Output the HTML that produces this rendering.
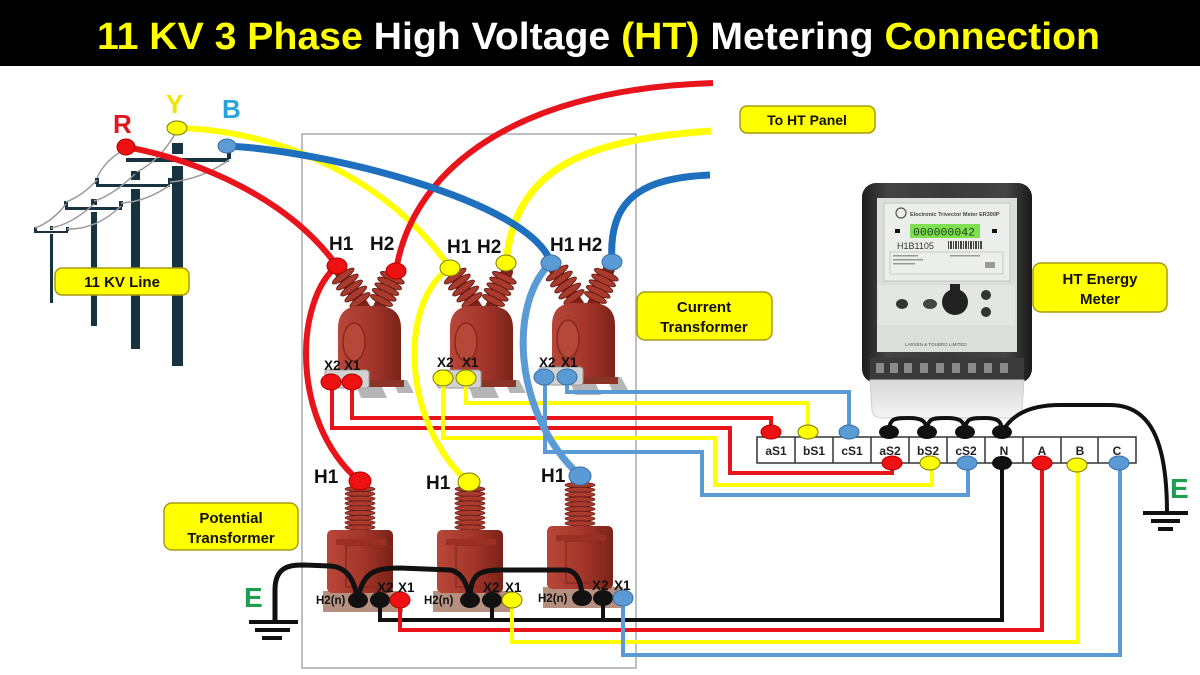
<!DOCTYPE html>
<html><head><meta charset="utf-8">
<style>
html,body{margin:0;padding:0;background:#fff;}
svg{display:block;}
text{font-family:"Liberation Sans",Arial,sans-serif;font-weight:bold;}
</style></head><body>
<svg width="1200" height="675" viewBox="0 0 1200 675" xmlns="http://www.w3.org/2000/svg">
<defs>
 <linearGradient id="case" x1="0" x2="1" y1="0" y2="0">
  <stop offset="0" stop-color="#1e1e1e"/><stop offset=".15" stop-color="#444"/><stop offset=".5" stop-color="#3a3a3a"/><stop offset=".85" stop-color="#444"/><stop offset="1" stop-color="#1a1a1a"/>
 </linearGradient>
 <linearGradient id="ctb" x1="0" x2="1" y1="0" y2="0">
  <stop offset="0" stop-color="#b8473a"/><stop offset=".55" stop-color="#a3352a"/><stop offset="1" stop-color="#7a2218"/>
 </linearGradient>
 <linearGradient id="cover" x1="0" x2="0" y1="0" y2="1">
  <stop offset="0" stop-color="#d8d8d8"/><stop offset="1" stop-color="#f4f4f4"/>
 </linearGradient>
 <g id="ct">
  <path d="M20,121 L45,121 L50,132 L24,132 Z" fill="#b5b5b5"/>
  <path d="M55,114 L70,114 L77,127 L61,127 Z" fill="#b5b5b5"/>
  <line x1="2" y1="4" x2="30" y2="46" stroke="#7d2418" stroke-width="12" stroke-linecap="round"/>
  <line x1="58" y1="6" x2="40" y2="46" stroke="#7d2418" stroke-width="12" stroke-linecap="round"/>
  <g fill="#a83b2d" stroke="#641810" stroke-width="0.9">
   <ellipse cx="6.2" cy="10" rx="13" ry="3.4" transform="rotate(-35 6.2 10)"/>
   <ellipse cx="10.4" cy="16" rx="13" ry="3.4" transform="rotate(-35 10.4 16)"/>
   <ellipse cx="14.6" cy="22" rx="13" ry="3.4" transform="rotate(-35 14.6 22)"/>
   <ellipse cx="18.8" cy="28" rx="13" ry="3.4" transform="rotate(-35 18.8 28)"/>
   <ellipse cx="23" cy="34" rx="12" ry="3.4" transform="rotate(-35 23 34)"/>
   <ellipse cx="55.3" cy="11.7" rx="13" ry="3.4" transform="rotate(25 55.3 11.7)"/>
   <ellipse cx="52.6" cy="17.4" rx="13" ry="3.4" transform="rotate(25 52.6 17.4)"/>
   <ellipse cx="49.9" cy="23.1" rx="13" ry="3.4" transform="rotate(25 49.9 23.1)"/>
   <ellipse cx="47.2" cy="28.8" rx="13" ry="3.4" transform="rotate(25 47.2 28.8)"/>
   <ellipse cx="44.5" cy="34.5" rx="12" ry="3.4" transform="rotate(25 44.5 34.5)"/>
  </g>
  <path d="M1,118 L1,62 Q1,42 20,40 L44,40 Q64,42 64,62 L64,118 Z" fill="url(#ctb)"/>
  <ellipse cx="17" cy="76" rx="11" ry="19" fill="#b54838" stroke="#86281d" stroke-width="1.5"/>
  <rect x="-3" y="114" width="70" height="7" fill="#8a3428"/>
  <rect x="-12" y="104" width="44" height="18" rx="3" fill="#d2d2d2" stroke="#9a9a9a"/>
 </g>
 <g id="pt">
  <rect x="-37" y="110" width="80" height="21" fill="#b59080"/>
  <rect x="-7" y="4" width="14" height="48" fill="#7d2418"/>
  <g fill="#a83b2d" stroke="#641810" stroke-width="0.8">
   <ellipse cx="0" cy="8" rx="15" ry="2.6"/>
   <ellipse cx="0" cy="12.8" rx="15" ry="2.6"/>
   <ellipse cx="0" cy="17.6" rx="15" ry="2.6"/>
   <ellipse cx="0" cy="22.4" rx="15" ry="2.6"/>
   <ellipse cx="0" cy="27.2" rx="15" ry="2.6"/>
   <ellipse cx="0" cy="32" rx="15" ry="2.6"/>
   <ellipse cx="0" cy="36.8" rx="15" ry="2.6"/>
   <ellipse cx="0" cy="41.6" rx="15" ry="2.6"/>
   <ellipse cx="0" cy="46.4" rx="15" ry="2.6"/>
  </g>
  <rect x="-33" y="49" width="66" height="63" rx="5" fill="url(#ctb)"/>
  <rect x="-14" y="64" width="38" height="42" fill="none" stroke="#8a2a1f" stroke-width="1.5"/>
  <rect x="-24" y="58" width="50" height="6" fill="#9a2f23"/>
 </g>
</defs>

<rect width="1200" height="675" fill="#fff"/>
<rect width="1200" height="66" fill="#000"/>
<text x="97" y="49" font-size="38" textLength="1003" lengthAdjust="spacingAndGlyphs"><tspan fill="#ffff00">11 KV 3 Phase</tspan><tspan fill="#ffffff"> High Voltage </tspan><tspan fill="#ffff00">(HT)</tspan><tspan fill="#ffffff"> Metering </tspan><tspan fill="#ffff00">Connection</tspan></text>

<!-- grey enclosure -->
<rect x="302" y="134" width="334" height="534" fill="none" stroke="#aaaaaa" stroke-width="1.5"/>

<!-- poles -->
<g fill="#173340">
 <rect x="172" y="143" width="11" height="11"/>
 <rect x="126" y="158" width="103" height="4"/>
 <rect x="172" y="166" width="11" height="200"/>
 <rect x="131" y="171" width="9" height="9"/>
 <rect x="96" y="184" width="74" height="3"/>
 <rect x="131" y="189" width="9" height="160"/>
 <rect x="91" y="199" width="6" height="6"/>
 <rect x="65" y="207" width="57" height="3"/>
 <rect x="91" y="212" width="6" height="114"/>
 <rect x="50" y="226" width="3" height="4"/>
 <rect x="34" y="231" width="34" height="2"/>
 <rect x="50" y="234" width="3" height="69"/>
 <rect x="95" y="178" width="4" height="6"/>
 <rect x="168" y="178" width="4" height="6"/>
 <rect x="64" y="201" width="4" height="6"/>
 <rect x="119" y="201" width="4" height="6"/>
 <rect x="34" y="227" width="3" height="4"/>
 <rect x="66" y="227" width="3" height="4"/>
 <rect x="227" y="153" width="4" height="6"/>
</g>
<g fill="none" stroke="#9a9a9a" stroke-width="1.5">
 <path d="M124,150 Q105,160 97,178"/>
 <path d="M175,134 Q160,160 137,172"/>
 <path d="M229,160 Q200,180 170,182"/>
 <path d="M97,180 Q82,196 66,202"/>
 <path d="M135,174 Q112,196 94,201"/>
 <path d="M170,185 Q146,202 121,203"/>
 <path d="M66,204 Q52,222 35,228"/>
 <path d="M94,204 Q72,224 51,228"/>
 <path d="M121,206 Q96,230 67,229"/>
</g>

<!-- labels R Y B -->
<text x="113" y="133" font-size="26" fill="#e3141b">R</text>
<text x="166" y="113" font-size="26" fill="#f2e600">Y</text>
<text x="222" y="118" font-size="26" fill="#29a3dd">B</text>

<!-- CT bodies -->
<use href="#ct" transform="translate(337,266)"/>
<use href="#ct" transform="translate(449,266)"/>
<use href="#ct" transform="translate(551,263)"/>

<!-- PT bodies -->
<use href="#pt" transform="translate(360,481)"/>
<use href="#pt" transform="translate(470,481)"/>
<use href="#pt" transform="translate(580,477)"/>

<!-- CT secondary wiring -->
<g fill="none" stroke-width="4" stroke-linejoin="miter">
 <path d="M352,382 V418 H771 V432" stroke="#e8141b"/>
 <path d="M332,382 V428 H730 V473 H892 V462" stroke="#e8141b"/>
 <path d="M466,378 V403 H808 V432" stroke="#ffff00"/>
 <path d="M443,378 V438 H715 V485 H932 V463" stroke="#ffff00"/>
 <path d="M567,377 V392 H849 V432" stroke="#5b9bd5"/>
 <path d="M545,377 V452 H702 V495 H968 V463" stroke="#5b9bd5"/>
</g>

<!-- PT secondary wiring -->
<g fill="none" stroke-width="4">
 <path d="M380,600 V620 H1002 V463" stroke="#111"/>
 <path d="M492,600 V620" stroke="#111"/>
 <path d="M603,598 V620" stroke="#111"/>
 <path d="M400,600 V630 H1042 V463" stroke="#e8141b"/>
 <path d="M512,600 V642 H1078 V465" stroke="#ffff00"/>
 <path d="M623,598 V655 H1120 V463" stroke="#5b9bd5"/>
</g>

<!-- primary wires -->
<g fill="none" stroke-linecap="butt">
 <path d="M177,128 C280,130 390,180 450,268" stroke="#ffff00" stroke-width="6"/>
 <path d="M396,271 C410,180 500,90 713,83" stroke="#e8141b" stroke-width="6"/>
 <path d="M506,263 C515,170 580,140 711,131" stroke="#ffff00" stroke-width="7"/>
 <path d="M227,146 C320,150 530,200 551,263" stroke="#1f6fbf" stroke-width="7"/>
 <path d="M612,262 C608,200 640,178 710,175" stroke="#1f6fbf" stroke-width="7"/>
 <path d="M126,147 C200,160 290,200 337,266" stroke="#e8141b" stroke-width="6"/>
 <path d="M337,266 C295,300 290,420 358,480" stroke="#e8141b" stroke-width="6"/>
 <path d="M450,268 C400,300 400,420 468,482" stroke="#ffff00" stroke-width="6"/>
 <path d="M551,263 C510,300 510,410 580,476" stroke="#5b9bd5" stroke-width="7"/>
</g>

<!-- PT neutral jumpers and left ground -->
<g fill="none" stroke="#111" stroke-width="5">
 <path d="M275,622 L275,590 C275,566 290,565 305,565 L330,566 C350,567 355,585 358,600"/>
 <path d="M358,600 C362,572 375,568 400,568 L450,570 C462,572 468,585 470,600"/>
 <path d="M470,600 C470,575 478,570 500,570 L565,570 C578,570 582,585 582,598"/>
</g>
<g fill="#111">
 <rect x="249" y="620" width="49" height="4"/>
 <rect x="255" y="628" width="35" height="4"/>
 <rect x="262" y="636" width="20" height="4"/>
</g>
<text x="244" y="607" font-size="28" fill="#1e9e4f">E</text>

<!-- meter -->
<g>
 <rect x="862" y="183" width="170" height="200" rx="14" fill="url(#case)"/>
 <rect x="877" y="198" width="140" height="154" fill="#dcdedc"/>
 <rect x="884" y="203" width="126" height="78" fill="#eceeec" stroke="#c4c4c4"/>
 <circle cx="901" cy="213" r="5" fill="none" stroke="#555" stroke-width="1.2"/>
 <text x="910" y="216" font-size="5.5" fill="#444">Electronic Trivector Meter  ER300P</text>
 <rect x="895" y="229" width="5" height="4" fill="#111"/>
 <rect x="992" y="229" width="5" height="4" fill="#111"/>
 <rect x="910" y="224" width="70" height="14" rx="1" fill="#7fe04f"/>
 <text x="913" y="235.5" font-size="11" fill="#1a3a1a" style="font-family:'Liberation Mono',monospace;font-weight:normal" textLength="62" lengthAdjust="spacingAndGlyphs">000000042</text>
 <text x="897" y="249" font-size="9" fill="#333" style="font-weight:normal">H1B1105</text>
 <line x1="948" y1="245" x2="982" y2="245" stroke="#444" stroke-width="8" stroke-dasharray="1 1 2 1"/>
 <rect x="890" y="252" width="113" height="22" fill="none" stroke="#c8c8c8"/>
 <g fill="#999">
  <rect x="893" y="255" width="25" height="1.5"/><rect x="893" y="259" width="30" height="1.5"/><rect x="893" y="263" width="22" height="1.5"/>
  <rect x="950" y="255" width="30" height="1.5"/><rect x="985" y="262" width="10" height="6"/>
 </g>
 <rect x="879" y="285" width="136" height="40" fill="#e4e6e4"/>
 <ellipse cx="902" cy="304" rx="6" ry="5" fill="#333"/>
 <ellipse cx="930" cy="304" rx="7" ry="5" fill="#444"/>
 <rect x="950" y="284" width="10" height="7" fill="#222"/>
 <circle cx="955" cy="302" r="13" fill="#222"/>
 <circle cx="986" cy="295" r="5" fill="#333"/>
 <circle cx="986" cy="312" r="5" fill="#333"/>
 <text x="905" y="346" font-size="4.5" fill="#555" style="font-weight:normal">LARSEN &amp; TOUBRO LIMITED</text>
 <rect x="870" y="358" width="154" height="22" fill="#3a3a3a"/>
 <g fill="#8a8a8a">
  <rect x="876" y="363" width="8" height="10"/><rect x="890" y="363" width="8" height="10"/><rect x="904" y="363" width="8" height="10"/>
  <rect x="920" y="363" width="8" height="10"/><rect x="936" y="363" width="8" height="10"/><rect x="952" y="363" width="8" height="10"/>
  <rect x="968" y="363" width="8" height="10"/><rect x="984" y="363" width="8" height="10"/><rect x="1000" y="363" width="8" height="10"/>
 </g>
 <path d="M870,380 L1024,380 L1022,410 Q1021,418 1012,418 L882,418 Q873,418 872,410 Z" fill="url(#cover)" stroke="#cfcfcf"/>
</g>

<!-- terminal block -->
<g fill="none" stroke="#111" stroke-width="4">
 <path d="M889,432 C889,418 895,418 908,418 C921,418 927,420 927,432"/>
 <path d="M927,432 C927,418 933,418 946,418 C959,418 965,420 965,432"/>
 <path d="M965,432 C965,418 971,418 984,418 C997,418 1002,420 1002,432"/>
 <path d="M1002,432 C1010,418 1025,405 1060,405 L1110,405 C1150,405 1167,440 1167,513"/>
</g>
<g fill="#111">
 <rect x="1143" y="511" width="45" height="4"/>
 <rect x="1151" y="519" width="29" height="4"/>
 <rect x="1158" y="527" width="15" height="4"/>
</g>
<text x="1170" y="498" font-size="28" fill="#1e9e4f">E</text>

<rect x="757" y="437" width="379" height="26" fill="#fff" stroke="#333" stroke-width="1.5"/>
<g stroke="#333" stroke-width="1.5">
 <line x1="795" y1="437" x2="795" y2="463"/><line x1="833" y1="437" x2="833" y2="463"/>
 <line x1="871" y1="437" x2="871" y2="463"/><line x1="909" y1="437" x2="909" y2="463"/>
 <line x1="947" y1="437" x2="947" y2="463"/><line x1="985" y1="437" x2="985" y2="463"/>
 <line x1="1023" y1="437" x2="1023" y2="463"/><line x1="1061" y1="437" x2="1061" y2="463"/>
 <line x1="1098" y1="437" x2="1098" y2="463"/>
</g>
<g font-size="12" fill="#222" text-anchor="middle">
 <text x="776" y="455">aS1</text><text x="814" y="455">bS1</text><text x="852" y="455">cS1</text>
 <text x="890" y="455">aS2</text><text x="928" y="455">bS2</text><text x="966" y="455">cS2</text>
 <text x="1004" y="455">N</text><text x="1042" y="455">A</text><text x="1080" y="455">B</text><text x="1117" y="455">C</text>
</g>

<!-- dots -->
<g stroke-width="1">
 <!-- pole dots -->
 <ellipse cx="126" cy="147" rx="9" ry="8" fill="#ee1111" stroke="#b00000"/>
 <ellipse cx="177" cy="128" rx="10" ry="7" fill="#ffff00" stroke="#7a7a00"/>
 <ellipse cx="227" cy="146" rx="9" ry="7" fill="#5b9bd5" stroke="#3a6ea5"/>
 <!-- CT H dots -->
 <ellipse cx="337" cy="266" rx="10" ry="8" fill="#ee1111" stroke="#b00000"/>
 <ellipse cx="396" cy="271" rx="10" ry="8" fill="#ee1111" stroke="#b00000"/>
 <ellipse cx="450" cy="268" rx="10" ry="8" fill="#ffff00" stroke="#7a7a00"/>
 <ellipse cx="506" cy="263" rx="10" ry="8" fill="#ffff00" stroke="#7a7a00"/>
 <ellipse cx="551" cy="263" rx="10" ry="8" fill="#5b9bd5" stroke="#3a6ea5"/>
 <ellipse cx="612" cy="262" rx="10" ry="8" fill="#5b9bd5" stroke="#3a6ea5"/>
 <!-- CT X dots -->
 <ellipse cx="331" cy="382" rx="10" ry="8" fill="#ee1111" stroke="#b00000"/>
 <ellipse cx="352" cy="382" rx="10" ry="8" fill="#ee1111" stroke="#b00000"/>
 <ellipse cx="443" cy="378" rx="10" ry="8" fill="#ffff00" stroke="#7a7a00"/>
 <ellipse cx="466" cy="378" rx="10" ry="8" fill="#ffff00" stroke="#7a7a00"/>
 <ellipse cx="544" cy="377" rx="10" ry="8" fill="#5b9bd5" stroke="#3a6ea5"/>
 <ellipse cx="567" cy="377" rx="10" ry="8" fill="#5b9bd5" stroke="#3a6ea5"/>
 <!-- PT H1 dots -->
 <ellipse cx="360" cy="481" rx="11" ry="9" fill="#ee1111" stroke="#b00000"/>
 <ellipse cx="469" cy="482" rx="11" ry="9" fill="#ffff00" stroke="#7a7a00"/>
 <ellipse cx="580" cy="476" rx="11" ry="9" fill="#5b9bd5" stroke="#3a6ea5"/>
 <!-- PT bottom dots -->
 <ellipse cx="358" cy="600" rx="10" ry="8" fill="#111"/>
 <ellipse cx="380" cy="600" rx="10" ry="8" fill="#111"/>
 <ellipse cx="400" cy="600" rx="10" ry="8" fill="#ee1111" stroke="#b00000"/>
 <ellipse cx="470" cy="600" rx="10" ry="8" fill="#111"/>
 <ellipse cx="492" cy="600" rx="10" ry="8" fill="#111"/>
 <ellipse cx="512" cy="600" rx="10" ry="8" fill="#ffff00" stroke="#7a7a00"/>
 <ellipse cx="582" cy="598" rx="10" ry="8" fill="#111"/>
 <ellipse cx="603" cy="598" rx="10" ry="8" fill="#111"/>
 <ellipse cx="623" cy="598" rx="10" ry="8" fill="#5b9bd5" stroke="#3a6ea5"/>
 <!-- terminal block dots -->
 <ellipse cx="771" cy="432" rx="10" ry="7" fill="#ee1111" stroke="#b00000"/>
 <ellipse cx="808" cy="432" rx="10" ry="7" fill="#ffff00" stroke="#7a7a00"/>
 <ellipse cx="849" cy="432" rx="10" ry="7" fill="#5b9bd5" stroke="#3a6ea5"/>
 <ellipse cx="889" cy="432" rx="10" ry="7" fill="#111"/>
 <ellipse cx="927" cy="432" rx="10" ry="7" fill="#111"/>
 <ellipse cx="965" cy="432" rx="10" ry="7" fill="#111"/>
 <ellipse cx="1002" cy="432" rx="10" ry="7" fill="#111"/>
 <ellipse cx="892" cy="463" rx="10" ry="7" fill="#ee1111" stroke="#b00000"/>
 <ellipse cx="930" cy="463" rx="10" ry="7" fill="#ffff00" stroke="#7a7a00"/>
 <ellipse cx="967" cy="463" rx="10" ry="7" fill="#5b9bd5" stroke="#3a6ea5"/>
 <ellipse cx="1002" cy="463" rx="10" ry="7" fill="#111"/>
 <ellipse cx="1042" cy="463" rx="10" ry="7" fill="#ee1111" stroke="#b00000"/>
 <ellipse cx="1077" cy="465" rx="10" ry="7" fill="#ffff00" stroke="#7a7a00"/>
 <ellipse cx="1119" cy="463" rx="10" ry="7" fill="#5b9bd5" stroke="#3a6ea5"/>
</g>

<!-- H / X labels -->
<g font-size="19" fill="#111">
 <text x="329" y="250">H1</text><text x="370" y="250">H2</text>
 <text x="447" y="253">H1</text><text x="477" y="253">H2</text>
 <text x="550" y="251">H1</text><text x="578" y="251">H2</text>
 <text x="314" y="483">H1</text><text x="426" y="489">H1</text><text x="541" y="482">H1</text>
</g>
<g font-size="13.5" fill="#111">
 <text x="324" y="370">X2</text><text x="344" y="370">X1</text>
 <text x="437" y="367">X2</text><text x="462" y="367">X1</text>
 <text x="539" y="367">X2</text><text x="561" y="367">X1</text>
 <text x="377" y="592">X2</text><text x="398" y="592">X1</text>
 <text x="483" y="592">X2</text><text x="505" y="592">X1</text>
 <text x="592" y="590">X2</text><text x="614" y="590">X1</text>
</g>
<g font-size="11.5" fill="#111">
 <text x="316" y="604">H2(n)</text><text x="424" y="604">H2(n)</text><text x="538" y="602">H2(n)</text>
</g>

<!-- yellow label boxes -->
<g fill="#ffff00" stroke="#a89a10" stroke-width="1.5">
 <rect x="740" y="106" width="135" height="27" rx="7"/>
 <rect x="637" y="292" width="135" height="48" rx="8"/>
 <rect x="1033" y="263" width="134" height="49" rx="8"/>
 <rect x="55" y="268" width="134" height="27" rx="7"/>
 <rect x="164" y="503" width="134" height="47" rx="8"/>
</g>
<g font-size="15" fill="#111" text-anchor="middle">
 <text x="807" y="125" font-size="14">To HT Panel</text>
 <text x="704" y="312">Current</text><text x="704" y="332">Transformer</text>
 <text x="1100" y="284">HT Energy</text><text x="1100" y="304">Meter</text>
 <text x="122" y="287">11 KV Line</text>
 <text x="231" y="523">Potential</text><text x="231" y="543">Transformer</text>
</g>
</svg>
</body></html>
